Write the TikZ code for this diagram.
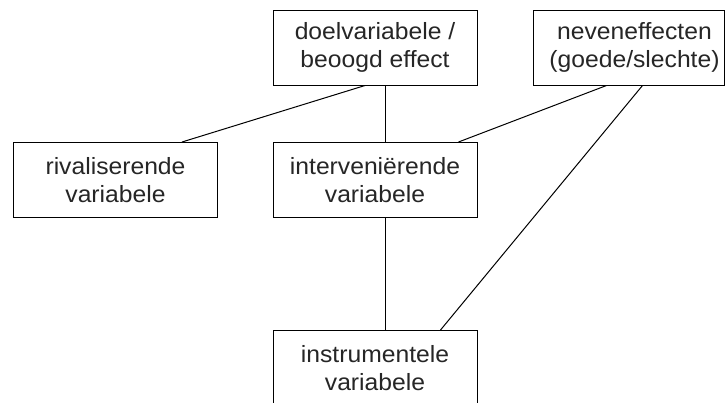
\documentclass[tikz,border=0pt]{standalone}
\usepackage{fontspec}
\setmainfont{Liberation Sans}[FakeStretch=1.05]
\usetikzlibrary{calc}
\begin{document}
\begin{tikzpicture}[x=1pt,y=-1pt,
  lbl/.style={align=center, font=\fontsize{23.5}{28.5}\selectfont, text=black!85},
  vbox/.style={lbl, draw=black, line width=1pt, minimum width=204pt, minimum height=75pt,
    inner sep=0pt},
  link/.style={draw=black, line width=1pt}]
  \useasboundingbox (0,0) rectangle (725,402);
  \clip (0,0) rectangle (725,402);
  \fill[white] (0,0) rectangle (725,402);

  % boxes
  \node[vbox] (doel) at (375,47.5) {doelvariabele /\\beoogd effect};
  \node[vbox, minimum width=191pt,
    label={[lbl, xshift=6pt]center:neveneffecten\\(goede/slechte)}]
    (nev) at (628.5,47.5) {};
  \node[vbox] (riv) at (115.5,180) {rivaliserende\\variabele};
  \node[vbox] (int) at (375,180) {interveniërende\\variabele};
  \node[vbox] (instr) at (375,368) {instrumentele\\variabele};

  % connectors
  \draw[link] ([xshift=-10pt]doel.south) -- ([xshift=-36pt]riv.north east);
  \draw[link] ([xshift=10pt]doel.south) -- ([xshift=10pt]int.north);
  \draw[link] ([xshift=10pt]int.south) -- ([xshift=10pt]instr.north);
  \draw[link] ([xshift=74pt]nev.south west) -- ([xshift=-19pt]int.north east);
  \draw[link] ([xshift=110pt]nev.south west) -- ([xshift=-37pt]instr.north east);
\end{tikzpicture}
\end{document}
